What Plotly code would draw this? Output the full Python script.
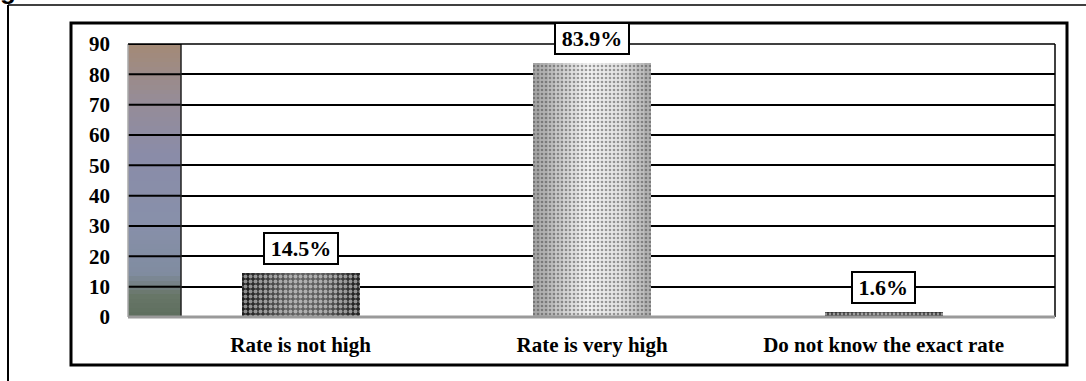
import plotly.graph_objects as go

# Survey answers and their percentages
categories = ["Rate is not high", "Rate is very high", "Do not know the exact rate"]
percentages = [14.5, 83.9, 1.6]
value_labels = ["14.5%", "83.9%", "1.6%"]
y_ticks = [0, 10, 20, 30, 40, 50, 60, 70, 80, 90]

SERIF = "Liberation Serif"
W, H = 1086, 381
L, R, T, B = 128, 31, 44, 64
PW, PH = W - L - R, H - T - B
X_RANGE = [-0.592, 2.588]
Y_RANGE = [0, 90]
x_pos = list(range(len(categories)))


def px_x(p):
    return (p - L) / PW


def px_y(p):
    return (H - B - p) / PH


def data_x(p):
    return X_RANGE[0] + px_x(p) * (X_RANGE[1] - X_RANGE[0])


def lerp(c1, c2, t):
    return tuple(round(a + (b - a) * t) for a, b in zip(c1, c2))


def hexc(c):
    return "#%02x%02x%02x" % c


def shade(stops, t):
    for (t0, c0), (t1, c1) in zip(stops, stops[1:]):
        if t0 <= t <= t1:
            return lerp(c0, c1, (t - t0) / (t1 - t0) if t1 > t0 else 0)
    return stops[-1][1]


fig = go.Figure()

# Back wall: vertical gradient drawn as a one-column heatmap
wx0, wx1 = X_RANGE[0], data_x(181)
wall_stops = [(0, (94, 110, 94)), (0.08, (104, 118, 104)), (0.16, (128, 140, 160)),
              (0.35, (136, 144, 170)), (0.6, (138, 140, 168)), (0.8, (150, 140, 150)),
              (1, (164, 138, 118))]
n_wall = 60
ysp = Y_RANGE[1] - Y_RANGE[0]
wall_edges = [Y_RANGE[0] + ysp * k / n_wall for k in range(n_wall + 1)]
wall_z = [[(k + 0.5) / n_wall] for k in range(n_wall)]
fig.add_trace(go.Heatmap(
    x=[wx0, wx1], y=wall_edges, z=wall_z,
    colorscale=[[t, hexc(c)] for t, c in wall_stops], zmin=0, zmax=1,
    showscale=False, hoverinfo="skip",
))

# Cylinder-style shading: each bar is built from thin vertical strips
bar_w = 0.405
n_strips = 16
profiles = [
    [(0, (25, 25, 25)), (0.45, (100, 100, 100)), (0.7, (90, 90, 90)), (1, (30, 30, 30))],
    [(0, (160, 160, 160)), (0.45, (242, 242, 242)), (0.75, (225, 225, 225)), (1, (170, 170, 170))],
    [(0, (45, 45, 45)), (0.5, (80, 80, 80)), (1, (45, 45, 45))],
]
pattern_fg = ["#f4f4f4", "#8c8c8c", "#aaaaaa"]
pattern_size = [5, 4, 4]
pattern_sol = [0.5, 0.35, 0.4]
for i in range(n_strips):
    t = (i + 0.5) / n_strips
    fig.add_trace(go.Bar(
        x=x_pos, y=percentages,
        width=bar_w / n_strips + 0.0008,
        offset=-bar_w / 2 + i * bar_w / n_strips,
        marker=dict(
            color=[hexc(shade(p, t)) for p in profiles],
            line=dict(width=0),
            pattern=dict(shape=".", fgcolor=pattern_fg, size=pattern_size,
                         solidity=pattern_sol, fillmode="overlay"),
        ),
        showlegend=False, hoverinfo="skip",
    ))

# Gridlines running across the back wall, plus its dark right edge
grid_x, grid_y = [], []
for v in y_ticks[1:]:
    grid_x += [wx0, wx1, None]
    grid_y += [v, v, None]
fig.add_trace(go.Scatter(x=grid_x, y=grid_y, mode="lines",
                         line=dict(color="black", width=2),
                         showlegend=False, hoverinfo="skip"))
fig.add_trace(go.Scatter(x=[wx1, wx1], y=Y_RANGE, mode="lines",
                         line=dict(color="#222222", width=1.5),
                         showlegend=False, hoverinfo="skip"))

# Boxed value labels above each bar
for xp, val, lab in zip(x_pos, percentages, value_labels):
    fig.add_annotation(
        x=xp, y=val, text=f"<b>{lab}</b>", showarrow=False, yanchor="bottom", yshift=8,
        font=dict(family=SERIF, size=22, color="black"),
        bgcolor="white", bordercolor="black", borderwidth=2, borderpad=1,
        width=11.5 * len(lab) + 12.5, height=27,
    )

shapes = [
    dict(type="line", xref="paper", yref="paper", x0=0, x1=0, y0=0, y1=1,
         line=dict(color="#aaaaaa", width=1.5)),
    # top gridline
    dict(type="line", xref="paper", yref="paper", x0=0, x1=1, y0=1, y1=1,
         line=dict(color="black", width=1.5)),
    # right edge of the plot area
    dict(type="line", xref="paper", yref="paper", x0=1, x1=1, y0=0, y1=1,
         line=dict(color="black", width=1.5)),
    # floor
    dict(type="line", xref="paper", yref="paper", x0=0, x1=1, y0=0, y1=0,
         line=dict(color="#9a9a9a", width=3)),
    # chart frame
    dict(type="rect", xref="paper", yref="paper", x0=px_x(71), x1=px_x(1067),
         y0=px_y(365), y1=px_y(23), line=dict(color="black", width=3)),
    # page frame
    dict(type="line", xref="paper", yref="paper", x0=px_x(8), x1=px_x(1090),
         y0=px_y(5), y1=px_y(5), line=dict(color="black", width=1.5)),
    dict(type="line", xref="paper", yref="paper", x0=px_x(8), x1=px_x(8),
         y0=px_y(5), y1=px_y(390), line=dict(color="black", width=2)),
]

fig.add_annotation(xref="paper", yref="paper", x=px_x(-2), y=px_y(7),
                   xanchor="left", yanchor="bottom", text="<b>g</b>", showarrow=False,
                   font=dict(family="Liberation Sans", size=26, color="black"))

fig.update_layout(
    width=W, height=H,
    margin=dict(l=L, r=R, t=T, b=B),
    paper_bgcolor="white", plot_bgcolor="white",
    font=dict(family=SERIF),
    barmode="overlay", bargap=0,
    shapes=shapes,
    xaxis=dict(type="linear", range=X_RANGE, showgrid=False, zeroline=False,
               showline=False, ticks="", ticklabelstandoff=13,
               tickvals=x_pos, ticktext=[f"<b>{c}</b>" for c in categories],
               tickfont=dict(family=SERIF, size=21, color="black")),
    yaxis=dict(range=Y_RANGE, tickvals=y_ticks, ticktext=[f"<b>{v}</b>" for v in y_ticks],
               showgrid=True, gridcolor="black",
               gridwidth=2, zeroline=False, showline=False, ticks="",
               ticklabelstandoff=17,
               tickfont=dict(family=SERIF, size=21, color="black")),
)

fig.write_html("out.html")
